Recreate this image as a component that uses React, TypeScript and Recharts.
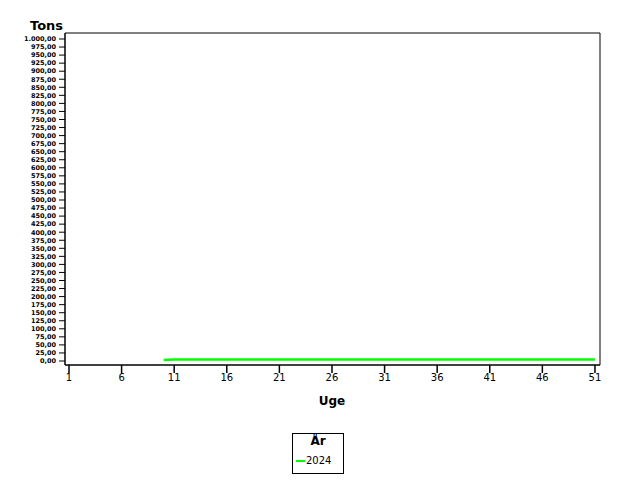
import React from 'react';
import { LineChart, Line, XAxis, YAxis } from 'recharts';

// Weeks (Uge) on the x axis
const weeks = [
  1, 2, 3, 4, 5, 6, 7, 8, 9, 10, 11, 12, 13, 14, 15, 16, 17, 18, 19, 20, 21, 22, 23, 24, 25, 26,
  27, 28, 29, 30, 31, 32, 33, 34, 35, 36, 37, 38, 39, 40, 41, 42, 43, 44, 45, 46, 47, 48, 49, 50, 51,
];

// Tons per week, 2024 (no data before week 10)
const tons2024 = [
  null, null, null, null, null, null, null, null, null, 3, 5, 5, 5, 5, 5, 5, 5, 5, 5, 5, 5, 5, 5, 5, 5, 5,
  5, 5, 5, 5, 5, 5, 5, 5, 5, 5, 5, 5, 5, 5, 5, 5, 5, 5, 5, 5, 5, 5, 5, 5, 5,
];

const xTicks = [1, 6, 11, 16, 21, 26, 31, 36, 41, 46, 51];
const yTicks = [
  0, 25, 50, 75, 100, 125, 150, 175, 200, 225, 250, 275, 300, 325, 350, 375, 400, 425, 450, 475, 500,
  525, 550, 575, 600, 625, 650, 675, 700, 725, 750, 775, 800, 825, 850, 875, 900, 925, 950, 975, 1000,
];

const seriesName = '2024';
const GREEN = '#00ff00';
const FONT = '"DejaVu Sans", sans-serif';

// Danish number format: 1.000,00
function formatTons(v: number): string {
  const fixed = v.toFixed(2);
  const [intPart, dec] = fixed.split('.');
  const withDots = intPart.replace(/\B(?=(\d{3})+(?!\d))/g, '.');
  return `${withDots},${dec}`;
}

const chartData = weeks.map((w, i) => ({ uge: w, [seriesName]: tons2024[i] }));

function LegendBox() {
  return (
    <div
      style={{
        position: 'absolute',
        left: 292,
        top: 433,
        width: 52,
        height: 41,
        border: '1px solid #000',
        boxSizing: 'border-box',
        fontFamily: FONT,
        background: '#fff',
      }}
    >
      <div style={{ textAlign: 'center', fontWeight: 'bold', fontSize: 12, lineHeight: '14px' }}>År</div>
      <div style={{ display: 'flex', alignItems: 'center', marginTop: 7, marginLeft: 3 }}>
        <span style={{ display: 'inline-block', width: 9, height: 2, background: GREEN }} />
        <span style={{ fontSize: 10, marginLeft: 1 }}>{seriesName}</span>
      </div>
    </div>
  );
}

export default function App() {
  return (
    <div style={{ position: 'absolute', left: 0, top: 0, width: 640, height: 480, background: '#fff' }}>
      <LineChart
        width={640}
        height={480}
        data={chartData}
        margin={{ top: 32, right: 39, bottom: 85, left: 0 }}
      >
        <XAxis
          dataKey="uge"
          type="number"
          domain={[0.62, 51.48]}
          ticks={xTicks}
          allowDataOverflow
          tickSize={8}
          tickMargin={1}
          height={30}
          axisLine={{ stroke: '#000', strokeWidth: 1.5 }}
          tickLine={{ stroke: '#000', strokeWidth: 1.5 }}
          tick={{ fontSize: 10, fill: '#000', fontFamily: FONT }}
        />
        <XAxis
          xAxisId="top"
          dataKey="uge"
          type="number"
          orientation="top"
          domain={[0.62, 51.48]}
          height={1}
          tick={false}
          tickLine={false}
          axisLine={{ stroke: '#000', strokeWidth: 1 }}
        />
        <YAxis
          type="number"
          domain={[-12.4, 1018.6]}
          ticks={yTicks}
          interval={0}
          allowDataOverflow
          width={65}
          tickSize={6}
          tickMargin={3}
          tickFormatter={formatTons}
          axisLine={{ stroke: '#000', strokeWidth: 1.5 }}
          tickLine={{ stroke: '#000', strokeWidth: 1 }}
          tick={{ fontSize: 6.5, fill: '#000', fontFamily: FONT, fontWeight: 'bold' }}
        />
        <YAxis
          yAxisId="right"
          orientation="right"
          type="number"
          domain={[-12.4, 1018.6]}
          width={1}
          tick={false}
          tickLine={false}
          axisLine={{ stroke: '#000', strokeWidth: 1 }}
        />
        <Line
          type="linear"
          dataKey={seriesName}
          stroke={GREEN}
          strokeWidth={2.5}
          dot={false}
          connectNulls={false}
          isAnimationActive={false}
        />
      </LineChart>
      <div
        style={{
          position: 'absolute',
          left: 30,
          top: 18,
          fontFamily: FONT,
          fontWeight: 'bold',
          fontSize: 13,
          lineHeight: '15px',
        }}
      >
        Tons
      </div>
      <div
        style={{
          position: 'absolute',
          left: 312,
          width: 40,
          textAlign: 'center',
          top: 394,
          fontFamily: FONT,
          fontWeight: 'bold',
          fontSize: 12,
          lineHeight: '14px',
        }}
      >
        Uge
      </div>
      <LegendBox />
    </div>
  );
}
